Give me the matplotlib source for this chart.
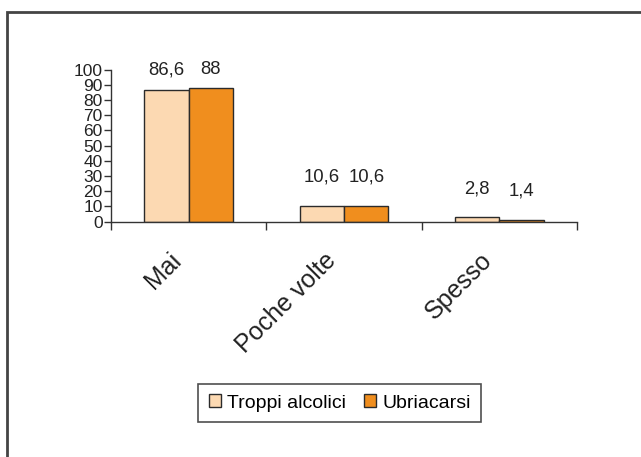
import matplotlib.pyplot as plt
import numpy as np
from matplotlib.patches import Rectangle
from matplotlib.transforms import ScaledTranslation

plt.rcParams["font.family"] = ["Liberation Sans", "DejaVu Sans"]

categories = ["Mai", "Poche volte", "Spesso"]
series_names = ["Troppi alcolici", "Ubriacarsi"]
troppi_alcolici = [86.6, 10.6, 2.8]
ubriacarsi = [88, 10.6, 1.4]
y_ticks = list(range(0, 101, 10))

colors = ["#FCD9B2", "#F08E1E"]
edge = "#2b2b2b"


def fmt(v: float) -> str:
    s = f"{v:g}"
    return s.replace(".", ",")


fig = plt.figure(figsize=(6.41, 4.57), dpi=100)
ax = fig.add_axes((0.1732, 0.5149, 0.7270, 0.3326))

# outer frame of the panel
fig.patches.append(
    Rectangle(
        (0.011, -0.1), 1.2, 1.074,
        transform=fig.transFigure, fill=False, edgecolor="#444444", linewidth=2,
    )
)

x = np.arange(len(categories)) + 0.5
width = 0.286
handles = []
for i, (name, values) in enumerate(zip(series_names, [troppi_alcolici, ubriacarsi])):
    pos = x + (i - 0.5) * width
    bars = ax.bar(pos, values, width, color=colors[i], edgecolor=edge,
                  linewidth=1.0, label=name)
    handles.append(bars)
    for px, v in zip(pos, values):
        ax.text(px, min(v + 19, 100), fmt(v), ha="center", va="center",
                fontsize=13.3, color="#222222")

ax.set_xlim(0, 3)
ax.set_ylim(0, 100)
ax.set_yticks(y_ticks)
ax.tick_params(axis="y", labelsize=12.5, length=5, width=1, color="#333333",
               pad=1, labelcolor="#222222")
ax.set_xticks(x)
ax.set_xticklabels(categories, rotation=45, ha="right", va="top",
                   rotation_mode="anchor", fontsize=18, color="#222222")
ax.tick_params(axis="x", which="major", length=0, pad=12)
ax.set_xticks([0, 1, 2, 3], minor=True)
ax.tick_params(axis="x", which="minor", length=6, width=1, color="#333333")

shift = ScaledTranslation(-0.20, -0.10, fig.dpi_scale_trans)
for lbl in ax.get_xticklabels():
    lbl.set_transform(lbl.get_transform() + shift)

for side in ["top", "right"]:
    ax.spines[side].set_visible(False)
for side in ["left", "bottom"]:
    ax.spines[side].set_color("#333333")
    ax.spines[side].set_linewidth(1)

leg = fig.legend(
    handles=handles, labels=series_names, loc="center",
    bbox_to_anchor=(0.530, 0.118), ncol=2, fontsize=14,
    handlelength=0.65, handleheight=0.65, handletextpad=0.3,
    columnspacing=0.9, borderpad=0.55, fancybox=False, frameon=True,
)
leg.get_frame().set_edgecolor("#222222")
leg.get_frame().set_linewidth(1.2)

fig.savefig("out.png", dpi=100)
